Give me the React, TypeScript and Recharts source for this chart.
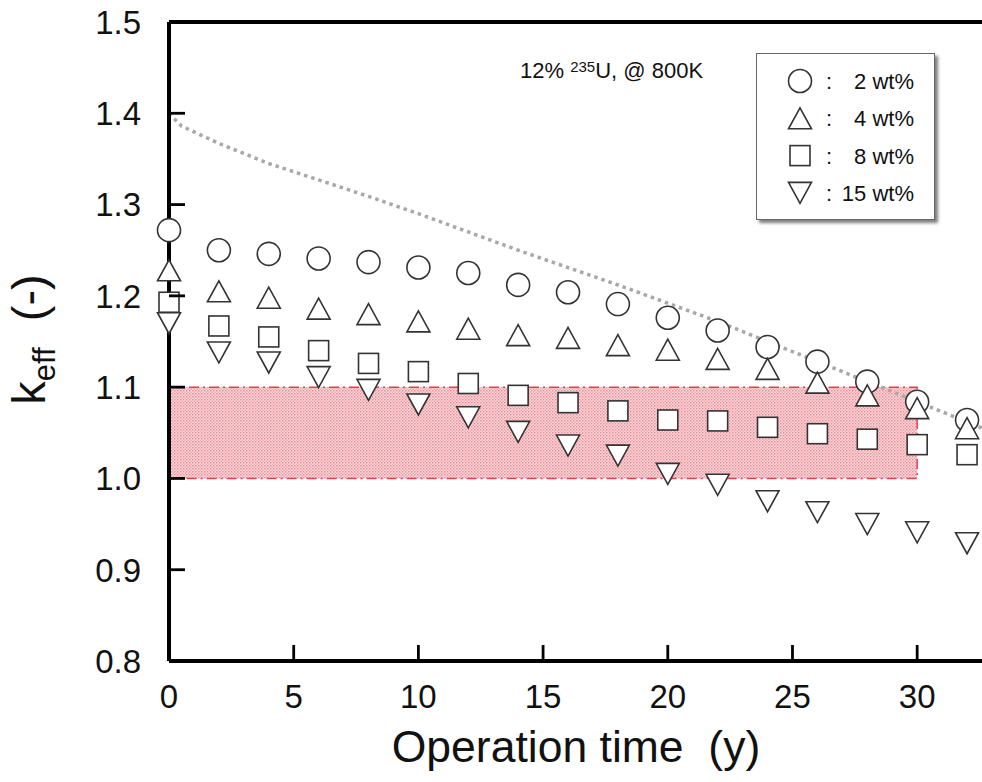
import React from 'react';
import {
  ComposedChart,
  Scatter,
  Line,
  XAxis,
  YAxis,
  ReferenceArea,
  Legend,
} from 'recharts';

// ---------- data ----------
const TIME = [0, 2, 4, 6, 8, 10, 12, 14, 16, 18, 20, 22, 24, 26, 28, 30, 32];
const WT2 = [1.272, 1.25, 1.246, 1.241, 1.237, 1.231, 1.225, 1.212, 1.204, 1.191, 1.176, 1.162, 1.144, 1.128, 1.106, 1.084, 1.064];
const WT4 = [1.228, 1.205, 1.198, 1.186, 1.18, 1.172, 1.164, 1.157, 1.154, 1.146, 1.141, 1.131, 1.12, 1.105, 1.091, 1.077, 1.055];
const WT8 = [1.193, 1.167, 1.155, 1.14, 1.126, 1.117, 1.104, 1.091, 1.083, 1.074, 1.064, 1.063, 1.056, 1.049, 1.043, 1.037, 1.026];
const WT15 = [1.17, 1.138, 1.127, 1.111, 1.097, 1.081, 1.067, 1.051, 1.036, 1.025, 1.005, 0.993, 0.975, 0.963, 0.95, 0.941, 0.929];

const LIMIT_X = [0, 0.5, 2, 4, 6, 8, 10, 12, 14, 16, 18, 20, 22, 24, 26, 28, 30, 32, 32.8];
const LIMIT_Y = [1.4, 1.386, 1.367, 1.345, 1.327, 1.309, 1.29, 1.27, 1.25, 1.231, 1.212, 1.192, 1.172, 1.15, 1.128, 1.106, 1.084, 1.062, 1.053];

const BAND_X = [0, 30];
const BAND_Y = [1.0, 1.1];

const X_DOMAIN = [0, 32.8];
const Y_DOMAIN = [0.8, 1.5];
const X_TICKS = [0, 5, 10, 15, 20, 25, 30];
const Y_TICKS = [0.8, 0.9, 1.0, 1.1, 1.2, 1.3, 1.4, 1.5];

const SERIES_NAMES = ['2 wt%', '4 wt%', '8 wt%', '15 wt%'];
const SERIES_VALUES = [WT2, WT4, WT8, WT15];

// ---------- layout ----------
const CHART_W = 995;
const CHART_H = 782;
const PLOT_LEFT = 169;
const PLOT_TOP = 22;
const PLOT_RIGHT = 987;
const PLOT_BOTTOM = 661;
const THIN_AXIS = 1; // size reserved for the top / right frame axes

const FONT = '"Liberation Sans", Arial, Helvetica, sans-serif';
const MARK_STROKE = '#333';
const AXIS_W = 4;
const TICK_LEN = 16;
const TICK_W = 2.8;
const TICK_COLOR = '#000';

const toRows = (xs: number[], ys: number[]) => xs.map((x, i) => ({ x, y: ys[i] }));

// ---------- marker shapes ----------
const CircleMark = (p: any) => (
  <circle cx={p.cx} cy={p.cy} r={11.5} fill="#fff" stroke={MARK_STROKE} strokeWidth={1.6} />
);
const TriUpMark = (p: any) => (
  <polygon
    points={`${p.cx},${p.cy - 10.5} ${p.cx - 11.5},${p.cy + 10.5} ${p.cx + 11.5},${p.cy + 10.5}`}
    fill="#fff"
    stroke={MARK_STROKE}
    strokeWidth={1.6}
  />
);
const SquareMark = (p: any) => (
  <rect x={p.cx - 10} y={p.cy - 10} width={20} height={20} fill="#fff" stroke={MARK_STROKE} strokeWidth={1.6} />
);
const TriDownMark = (p: any) => (
  <polygon
    points={`${p.cx - 11.5},${p.cy - 10.5} ${p.cx + 11.5},${p.cy - 10.5} ${p.cx},${p.cy + 10.5}`}
    fill="#fff"
    stroke={MARK_STROKE}
    strokeWidth={1.6}
  />
);
const SHAPES = [CircleMark, TriUpMark, SquareMark, TriDownMark];

// ---------- ticks (inward tick marks, labels outside) ----------
const coordOf = (props: any, fallback: number) => {
  const c = props && props.payload ? Number(props.payload.coordinate) : NaN;
  return Number.isFinite(c) ? c : Number(fallback);
};

const leftTick = (props: any) => {
  const y = coordOf(props, props.y);
  return (
    <g>
      <path d={`M${PLOT_LEFT},${y}H${PLOT_LEFT + TICK_LEN}`} stroke={TICK_COLOR} strokeWidth={TICK_W} fill="none" />
      <text x={PLOT_LEFT - 28} y={y} dy="0.36em" textAnchor="end" fontSize={33} fontFamily={FONT} fill="#111">
        {Number(props.payload.value).toFixed(1)}
      </text>
    </g>
  );
};
const bottomTick = (props: any) => {
  const x = coordOf(props, props.x);
  return (
    <g>
      <path d={`M${x},${PLOT_BOTTOM}V${PLOT_BOTTOM - TICK_LEN}`} stroke={TICK_COLOR} strokeWidth={TICK_W} fill="none" />
      <text x={x} y={PLOT_BOTTOM + 47} textAnchor="middle" fontSize={33} fontFamily={FONT} fill="#111">
        {props.payload.value}
      </text>
    </g>
  );
};
const topTick = (props: any) => {
  const x = coordOf(props, props.x);
  return <path d={`M${x},${PLOT_TOP}V${PLOT_TOP + TICK_LEN}`} stroke={TICK_COLOR} strokeWidth={TICK_W} fill="none" />;
};
const rightTick = (props: any) => {
  const y = coordOf(props, props.y);
  return <path d={`M${PLOT_RIGHT - TICK_LEN},${y}H${PLOT_RIGHT}`} stroke={TICK_COLOR} strokeWidth={TICK_W} fill="none" />;
};

// ---------- labels ----------
const YLabel = (props: any) => {
  const vb = props.viewBox || { x: 0, y: 0, width: 0, height: 0 };
  const cx = 45;
  const cy = vb.y + vb.height / 2 - 2;
  return (
    <text
      x={cx}
      y={cy}
      textAnchor="middle"
      transform={`rotate(-90, ${cx}, ${cy})`}
      fontSize={47}
      fontFamily={FONT}
      fill="#111"
      style={{ whiteSpace: 'pre' }}
    >
      k
      <tspan fontSize={31} dy={10}>eff</tspan>
      <tspan dy={-10}>{'  (-)'}</tspan>
    </text>
  );
};
const XLabel = (props: any) => {
  const vb = props.viewBox || { x: 0, y: 0, width: 0, height: 0 };
  return (
    <text
      x={vb.x + vb.width / 2 - 2}
      y={vb.y + 101}
      textAnchor="middle"
      fontSize={44.5}
      fontFamily={FONT}
      fill="#111"
      style={{ whiteSpace: 'pre' }}
    >
      {'Operation time  (y)'}
    </text>
  );
};

// ---------- legend ----------
const LegendBox = () => (
  <div
    style={{
      width: 179,
      height: 167,
      background: '#fff',
      border: '1px solid #666',
      boxShadow: '3px 3px 3px rgba(0,0,0,0.5)',
      boxSizing: 'border-box',
    }}
  >
    <svg width={177} height={165} style={{ display: 'block' }}>
      {SERIES_NAMES.map((name, i) => {
        const Shape = SHAPES[i];
        const cy = 27 + i * 37.3;
        return (
          <g key={name}>
            <Shape cx={43} cy={cy} />
            <text x={72} y={cy + 8} textAnchor="middle" fontSize={22} fontFamily={FONT} fill="#111">:</text>
            <text x={157} y={cy + 8} textAnchor="end" fontSize={22} fontFamily={FONT} fill="#111">{name}</text>
          </g>
        );
      })}
    </svg>
  </div>
);

export default function App() {
  return (
    <div
      style={{
        position: 'absolute',
        left: 0,
        top: 0,
        width: 982,
        height: 782,
        overflow: 'hidden',
        background: '#fff',
      }}
    >
      <ComposedChart
        width={CHART_W}
        height={CHART_H}
        margin={{
          top: PLOT_TOP - THIN_AXIS,
          right: CHART_W - PLOT_RIGHT - THIN_AXIS,
          bottom: 0,
          left: 0,
        }}
      >
        <defs>
          <pattern id="pinkTex" width={3} height={3} patternUnits="userSpaceOnUse">
            <rect width={3} height={3} fill="#fbdde0" />
            <rect width={1.5} height={1.5} fill="#ef8994" />
            <rect x={1.5} y={1.5} width={1.5} height={1.5} fill="#f3a5ad" />
          </pattern>
        </defs>
        <ReferenceArea
          x1={BAND_X[0]}
          x2={BAND_X[1]}
          y1={BAND_Y[0]}
          y2={BAND_Y[1]}
          xAxisId="b"
          yAxisId="l"
          fill="url(#pinkTex)"
          fillOpacity={1}
          stroke="#e2404f"
          strokeWidth={1.5}
          strokeDasharray="10 4 2 4"
          ifOverflow="visible"
        />
        <XAxis
          xAxisId="b"
          type="number"
          dataKey="x"
          domain={X_DOMAIN}
          ticks={X_TICKS}
          interval={0}
          height={CHART_H - PLOT_BOTTOM}
          tickSize={0}
          tickMargin={0}
          tickLine={false}
          axisLine={{ stroke: '#000', strokeWidth: AXIS_W }}
          tick={bottomTick}
          label={<XLabel />}
        />
        <XAxis
          xAxisId="t"
          orientation="top"
          type="number"
          dataKey="x"
          domain={X_DOMAIN}
          ticks={X_TICKS}
          interval={0}
          height={THIN_AXIS}
          tickSize={0}
          tickMargin={0}
          tickLine={false}
          axisLine={{ stroke: '#000', strokeWidth: AXIS_W }}
          tick={topTick}
        />
        <YAxis
          yAxisId="l"
          type="number"
          dataKey="y"
          domain={Y_DOMAIN}
          ticks={Y_TICKS}
          interval={0}
          width={PLOT_LEFT}
          tickSize={0}
          tickMargin={0}
          tickLine={false}
          axisLine={{ stroke: '#000', strokeWidth: AXIS_W }}
          tick={leftTick}
          label={<YLabel />}
        />
        <YAxis
          yAxisId="r"
          orientation="right"
          type="number"
          dataKey="y"
          domain={Y_DOMAIN}
          ticks={Y_TICKS}
          interval={0}
          width={THIN_AXIS}
          tickSize={0}
          tickMargin={0}
          tickLine={false}
          axisLine={{ stroke: '#000', strokeWidth: AXIS_W }}
          tick={rightTick}
        />
        <Line
          xAxisId="b"
          yAxisId="l"
          data={toRows(LIMIT_X, LIMIT_Y)}
          dataKey="y"
          type="linear"
          stroke="#a8a8a8"
          strokeWidth={3.5}
          strokeDasharray="3.5 4"
          dot={false}
          activeDot={false}
          isAnimationActive={false}
          legendType="none"
        />
        {SERIES_VALUES.map((vals, i) => (
          <Scatter
            key={SERIES_NAMES[i]}
            name={SERIES_NAMES[i]}
            xAxisId="b"
            yAxisId="l"
            data={toRows(TIME, vals)}
            dataKey="y"
            shape={SHAPES[i]}
            isAnimationActive={false}
          />
        ))}
        <Legend
          layout="horizontal"
          verticalAlign="middle"
          align="center"
          content={() => <LegendBox />}
          wrapperStyle={{ left: 756, top: 53, width: 179, height: 167 }}
        />
      </ComposedChart>
      <div
        style={{
          position: 'absolute',
          left: 520,
          top: 58,
          fontFamily: FONT,
          fontSize: 22,
          color: '#111',
          whiteSpace: 'pre',
          lineHeight: '26px',
        }}
      >
        12% <sup style={{ fontSize: 15, verticalAlign: 'top', position: 'relative', top: -4 }}>235</sup>U, @ 800K
      </div>
    </div>
  );
}
